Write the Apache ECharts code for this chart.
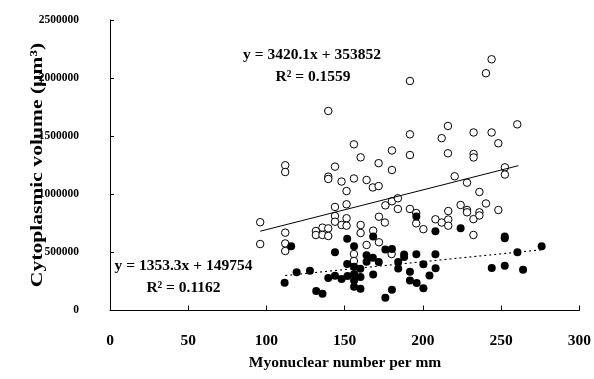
<!DOCTYPE html>
<html>
<head>
<meta charset="utf-8">
<script src="https://cdn.jsdelivr.net/npm/echarts@6/dist/echarts.min.js"></script>
<style>
html,body{margin:0;padding:0;background:#fff;}
#chart{width:594px;height:379px;}
</style>
</head>
<body>
<div id="chart"></div>
<script>
// Open circles (x = myonuclear number per mm, y = cytoplasmic volume)
var openX = [96,96,112,112,112,112,112,131.6,131.6,135.8,135.8,139.5,139.5,139.5,139.5,139.5,143.8,143.8,143.8,143.8,148,148,151.2,151.2,151.2,151.2,155.9,155.9,155.9,155.9,160.2,160.2,160.2,164,164,168,171.7,171.7,171.9,171.9,168.2,176,175.7,180.2,180.2,180.2,180,184,184,191.7,191.7,191.7,191.7,195.7,195.7,200.3,208,212,212,216,216,216.2,216.2,216.2,220.3,224.1,228.2,228.2,228.2,232.4,232.4,232.4,232.3,232.3,236.1,236.1,236.1,240.3,240.3,243.9,243.9,248.2,248.2,252.4,252.4,260.3];
var openY = [760000,572000,1250000,1192000,670000,577000,512000,684000,650000,713000,650000,707000,641000,1717000,1152000,1132000,1238000,891000,813000,764000,1110000,736000,1028000,914000,794000,730000,1430000,1136000,486000,426000,1318000,736000,667000,1123000,564000,1059000,1071000,1268000,807000,587000,687000,905000,757000,1377000,1209000,940000,486000,966000,874000,1975000,1516000,1338000,874000,839000,750000,700000,785000,757000,1483000,1588000,1353000,856000,783000,730000,1155000,908000,1100000,865000,845000,1532000,1347000,1317000,786000,650000,1020000,845000,818000,2042000,921000,2162000,1532000,1439000,865000,1232000,1170000,1602000];
// Filled circles
var filledX = [115.8,143.8,119.3,127.8,111.6,139.5,143.8,148,131.8,135.8,151.6,151.6,156,156,160,164,164,168,168.2,171.8,176,180.2,184.2,184.2,188,188,195.8,200.3,208,208.1,204.2,191.7,191.7,196,200.3,180.2,176,168.2,160.1,156,156,156,160.1,151.8,195.8,208,224.1,252.3,252.3,260.4,275.9,244,252.3,264];
var filledY = [552000,501000,329000,342000,239000,280000,300000,271000,168000,145000,618000,400000,553000,377000,360000,476000,420000,454000,637000,417000,525000,529000,417000,362000,482000,460000,485000,399000,484000,363000,301000,334000,258000,237000,191000,179000,110000,310000,288000,314000,258000,205000,187000,297000,809000,682000,707000,637000,622000,501000,553000,366000,386000,351000];
// Trend line end points (from the printed equations)
var openTrendX = [96, 261];
var openTrendY = [682200, 1246500];
var filledTrendX = [112, 276];
var filledTrendY = [301300, 523300];
// Axis ticks
var xTicks = [0, 50, 100, 150, 200, 250, 300];
var yTicks = [0, 500000, 1000000, 1500000, 2000000, 2500000];
// Texts
var eqOpen = 'y = 3420.1x + 353852';
var r2Open = 'R\u00b2 = 0.1559';
var eqFilled = 'y = 1353.3x + 149754';
var r2Filled = 'R\u00b2 = 0.1162';
var xTitle = 'Myonuclear number per mm';
var yTitle = 'Cytoplasmic volume (\u00b5m\u00b3)';

function zip(a, b){ return a.map(function(v,i){ return [v, b[i]]; }); }

var FONT = '"Liberation Serif", "Times New Roman", serif';
var chart = echarts.init(document.getElementById('chart'), null, {renderer:'canvas'});
chart.setOption({
  animation: false,
  backgroundColor: '#fff',
  grid: {left: 110, top: 20, width: 469.5, height: 290.5, containLabel: false},
  xAxis: {
    type: 'value', min: xTicks[0], max: xTicks[xTicks.length-1], interval: xTicks[1]-xTicks[0],
    axisLine: {show: true, onZero: false, lineStyle: {color: '#000', width: 1}},
    axisTick: {show: true, inside: true, length: 5, lineStyle: {color: '#000'}},
    splitLine: {show: false},
    axisLabel: {color: '#000', fontFamily: FONT, fontWeight: 'bold', fontSize: 15.5, margin: 22,
      formatter: function(v){ return String(v); }}
  },
  yAxis: {
    type: 'value', min: yTicks[0], max: yTicks[yTicks.length-1], interval: yTicks[1]-yTicks[0],
    axisLine: {show: true, onZero: false, lineStyle: {color: '#000', width: 1}},
    axisTick: {show: true, inside: true, length: 4, lineStyle: {color: '#000'}},
    splitLine: {show: false},
    axisLabel: {color: '#000', fontFamily: FONT, fontWeight: 'bold', fontSize: 11.5, margin: 31,
      formatter: function(v){ return String(v); }}
  },
  series: [
    {type: 'scatter', data: zip(openX, openY), symbol: 'circle', symbolSize: 7.5, z: 2,
     itemStyle: {color: '#fff', borderColor: '#000', borderWidth: 1, opacity: 1}},
    {type: 'scatter', data: zip(filledX, filledY), symbol: 'circle', symbolSize: 8, z: 3,
     itemStyle: {color: '#000', opacity: 1}},
    {type: 'line', data: zip(openTrendX, openTrendY), symbol: 'none', z: 4,
     lineStyle: {color: '#000', width: 1}},
    {type: 'line', data: zip(filledTrendX, filledTrendY), symbol: 'none', z: 4,
     lineStyle: {color: '#000', width: 1.2, type: [2, 3]}}
  ],
  graphic: [
    {type: 'text', x: 312, y: 54.5, z: 10, style: {text: eqOpen, font: 'bold 15.5px ' + FONT, fill: '#000', textAlign: 'center', textVerticalAlign: 'middle'}},
    {type: 'text', x: 313, y: 77, z: 10, style: {text: r2Open, font: 'bold 15.5px ' + FONT, fill: '#000', textAlign: 'center', textVerticalAlign: 'middle'}},
    {type: 'text', x: 183.5, y: 265.5, z: 10, style: {text: eqFilled, font: 'bold 15.5px ' + FONT, fill: '#000', textAlign: 'center', textVerticalAlign: 'middle'}},
    {type: 'text', x: 183.5, y: 287.5, z: 10, style: {text: r2Filled, font: 'bold 15.5px ' + FONT, fill: '#000', textAlign: 'center', textVerticalAlign: 'middle'}},
    {type: 'text', x: 345, y: 363, z: 10, style: {text: xTitle, font: 'bold 15.5px ' + FONT, fill: '#000', textAlign: 'center', textVerticalAlign: 'middle'}},
    {type: 'text', x: 38, y: 165, rotation: Math.PI/2, scaleX: 1.27, scaleY: 1, z: 10, style: {text: yTitle, font: 'bold 17px ' + FONT, fill: '#000', textAlign: 'center', textVerticalAlign: 'middle'}}
  ]
});
</script>
</body>
</html>
